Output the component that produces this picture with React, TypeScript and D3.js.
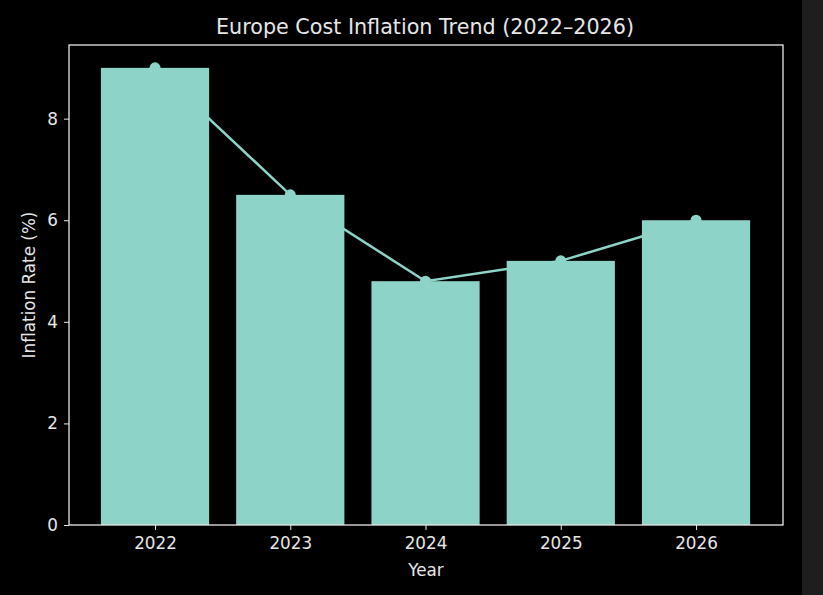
import React, { useEffect, useRef } from 'react';
import * as d3 from 'd3';

const years: string[] = ['2022', '2023', '2024', '2025', '2026'];
const inflation: number[] = [9.0, 6.5, 4.8, 5.2, 6.0];
const yTicks: number[] = [0, 2, 4, 6, 8];

const WIDTH = 823;
const HEIGHT = 595;
const margin = { l: 69, r: 40, t: 45, b: 70 };
const COLOR = '#8dd3c7';
const TEXT = '#e6e6e6';
const FONT = 'DejaVu Sans, sans-serif';

const App = () => {
  const widthMap = WIDTH - margin.l - margin.r;
  const heightMap = HEIGHT - margin.t - margin.b;

  const xScale = d3.scaleLinear().domain([-0.636, 4.643]).range([0, widthMap]);
  const yScale = d3
    .scaleLinear()
    .domain([0, (d3.max(inflation) as number) * 1.05])
    .range([heightMap, 0]);
  const barW = xScale(0.8) - xScale(0);

  const $xaxis: any = useRef(null);
  const $yaxis: any = useRef(null);

  const line = d3
    .line<number>()
    .x((d, i) => xScale(i))
    .y((d) => yScale(d));

  useEffect(() => {
    const xAxis = d3
      .axisBottom(xScale)
      .tickValues(years.map((_, i) => i))
      .tickFormat((d: any) => years[d as number])
      .tickSize(5)
      .tickPadding(7);
    const yAxis = d3.axisLeft(yScale).tickValues(yTicks).tickSize(5).tickPadding(6);
    const style = (g: any) => {
      g.select('.domain').remove();
      g.selectAll('line').attr('stroke', TEXT);
      g.selectAll('text').attr('fill', TEXT).style('font-size', '16.8px').style('font-family', FONT);
    };
    d3.select($xaxis.current).call(xAxis).call(style);
    d3.select($yaxis.current).call(yAxis).call(style);
  }, []);

  return (
    <svg
      width={WIDTH}
      height={HEIGHT}
      style={{ position: 'absolute', left: 0, top: 0, background: '#000' }}
    >
      <rect x={0} y={0} width={WIDTH} height={HEIGHT} fill="#000" />
      <rect x={802} y={0} width={WIDTH - 802} height={HEIGHT} fill="#1e1e1e" />
      <text
        x={margin.l + widthMap / 2 - 1}
        y={34}
        textAnchor="middle"
        fill={TEXT}
        fontFamily={FONT}
        fontSize={20.7}
      >
        Europe Cost Inflation Trend (2022–2026)
      </text>
      <g transform={`translate(${margin.l}, ${margin.t})`}>
        <path d={line(inflation) || ''} stroke={COLOR} strokeWidth={2.5} fill="none" />
        {inflation.map((d, i) => (
          <circle key={`c${i}`} cx={xScale(i)} cy={yScale(d)} r={5.5} fill={COLOR} />
        ))}
        {inflation.map((d, i) => (
          <rect
            key={`b${i}`}
            x={xScale(i) - barW / 2}
            y={yScale(d)}
            width={barW}
            height={heightMap - yScale(d)}
            fill={COLOR}
          />
        ))}
        <rect
          x={0}
          y={0}
          width={widthMap}
          height={heightMap}
          fill="none"
          stroke={TEXT}
          strokeWidth={1.3}
        />
        <g transform={`translate(0, ${heightMap})`} ref={$xaxis} />
        <g ref={$yaxis} />
        <text
          x={widthMap / 2}
          y={heightMap + 51}
          textAnchor="middle"
          fill={TEXT}
          fontFamily={FONT}
          fontSize={16.8}
        >
          Year
        </text>
        <text
          transform={`translate(${-34}, ${heightMap / 2}) rotate(-90)`}
          textAnchor="middle"
          fill={TEXT}
          fontFamily={FONT}
          fontSize={16.8}
        >
          Inflation Rate (%)
        </text>
      </g>
    </svg>
  );
};

export default App;
